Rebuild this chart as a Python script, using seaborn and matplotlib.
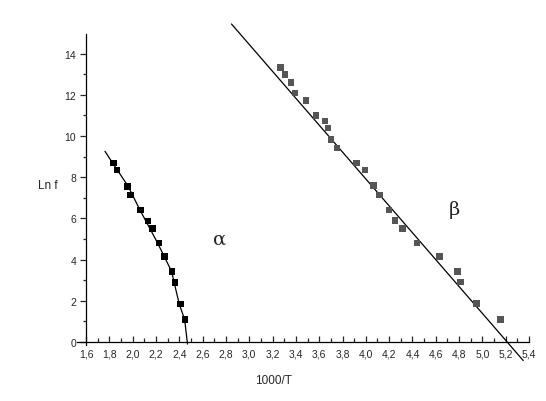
import matplotlib
matplotlib.use("Agg")
import matplotlib.pyplot as plt
from matplotlib.ticker import MultipleLocator, FuncFormatter
import seaborn as sns
import pandas as pd

# ---- data ----
alpha_x = [1.834, 1.868, 1.957, 1.983, 2.069, 2.134, 2.172, 2.226, 2.274, 2.337, 2.363, 2.411, 2.451]
alpha_y = [8.69, 8.35, 7.56, 7.14, 6.41, 5.87, 5.52, 4.81, 4.14, 3.43, 2.90, 1.84, 1.10]
alpha_fit_x = [1.763, 1.829, 1.962, 2.063, 2.214, 2.334, 2.400, 2.446, 2.471]
alpha_fit_y = [9.26, 8.69, 7.56, 6.41, 4.81, 3.43, 1.84, 1.10, -0.10]

beta_x = [3.268, 3.308, 3.359, 3.393, 3.485, 3.573, 3.651, 3.674, 3.702, 3.753, 3.920, 3.991,
          4.068, 4.119, 4.199, 4.250, 4.314, 4.439, 4.633, 4.788, 4.811, 4.948, 5.154]
beta_y = [13.34, 12.98, 12.61, 12.09, 11.73, 11.00, 10.73, 10.39, 9.82, 9.43, 8.69, 8.35,
          7.59, 7.14, 6.41, 5.89, 5.52, 4.81, 4.14, 3.43, 2.91, 1.86, 1.10]
beta_fit_x = [2.848, 5.35]
beta_fit_y = [15.44, -0.90]

x_label = "1000/T"
y_label = "Ln f"

sns.set_style("ticks")
plt.rcParams['font.family'] = ['Liberation Sans', 'DejaVu Sans']

fig = plt.figure(figsize=(5.46, 4.02), dpi=100)
ax = fig.add_axes([0.141, 0.0955, 0.828, 0.8505])

df_a = pd.DataFrame({"x": alpha_x, "y": alpha_y})
df_af = pd.DataFrame({"x": alpha_fit_x, "y": alpha_fit_y})
df_b = pd.DataFrame({"x": beta_x, "y": beta_y})
df_bf = pd.DataFrame({"x": beta_fit_x, "y": beta_fit_y})

sns.lineplot(data=df_af, x="x", y="y", sort=False, estimator=None, color="black",
             linewidth=0.9, ax=ax, clip_on=False)
sns.lineplot(data=df_bf, x="x", y="y", sort=False, estimator=None, color="black",
             linewidth=0.9, ax=ax, clip_on=False)
sns.scatterplot(data=df_a, x="x", y="y", marker="s", s=22, color="black",
                edgecolor="none", ax=ax, zorder=3)
sns.scatterplot(data=df_b, x="x", y="y", marker="s", s=22, color="#555555",
                edgecolor="none", ax=ax, zorder=3)

ax.set_xlim(1.523, 5.4)
ax.set_ylim(-1.0, 15.6)

ax.spines['top'].set_visible(False)
ax.spines['right'].set_visible(False)
ax.spines['left'].set_position(('data', 1.6))
ax.spines['bottom'].set_position(('data', 0))
ax.spines['left'].set_bounds(-0.15, 14.95)
for s in ('left', 'bottom'):
    ax.spines[s].set_linewidth(0.9)
    ax.spines[s].set_color('black')

ax.xaxis.set_major_locator(MultipleLocator(0.2))
ax.xaxis.set_minor_locator(MultipleLocator(0.1))
ax.yaxis.set_major_locator(MultipleLocator(2))
ax.yaxis.set_minor_locator(MultipleLocator(1))
ax.set_yticks([0, 2, 4, 6, 8, 10, 12, 14])
ax.set_xticks([round(1.6 + 0.2 * i, 1) for i in range(20)])
ax.set_xticks([round(1.7 + 0.2 * i, 1) for i in range(19)], minor=True)
ax.set_yticks([1, 3, 5, 7, 9, 11, 13], minor=True)

ax.xaxis.set_major_formatter(FuncFormatter(lambda v, p: f"{v:.1f}".replace(".", ",")))
ax.tick_params(axis='x', which='major', direction='in', length=4, width=0.9, labelsize=7.5, pad=5)
ax.tick_params(axis='x', which='minor', direction='in', length=3, width=0.9)
ax.tick_params(axis='y', which='major', direction='out', length=4, width=0.9, labelsize=7.5, pad=3)
ax.tick_params(axis='y', which='minor', direction='out', length=2.5, width=0.9)

ax.set_xlabel("")
ax.set_ylabel("")
ax.text(0.5, 0.052, x_label, transform=fig.transFigure, fontsize=8.5, ha='center', va='center')
ax.text(48 / 546, 1 - 186 / 402, y_label, transform=fig.transFigure, fontsize=8.5, ha='center', va='center')

ax.text(2.748, 5.0, "α", fontsize=14, family=['DejaVu Serif'], ha='center', va='center')
ax.text(4.762, 6.46, "β", fontsize=14, family=['DejaVu Serif'], ha='center', va='center')

fig.savefig("out.png", dpi=100)
